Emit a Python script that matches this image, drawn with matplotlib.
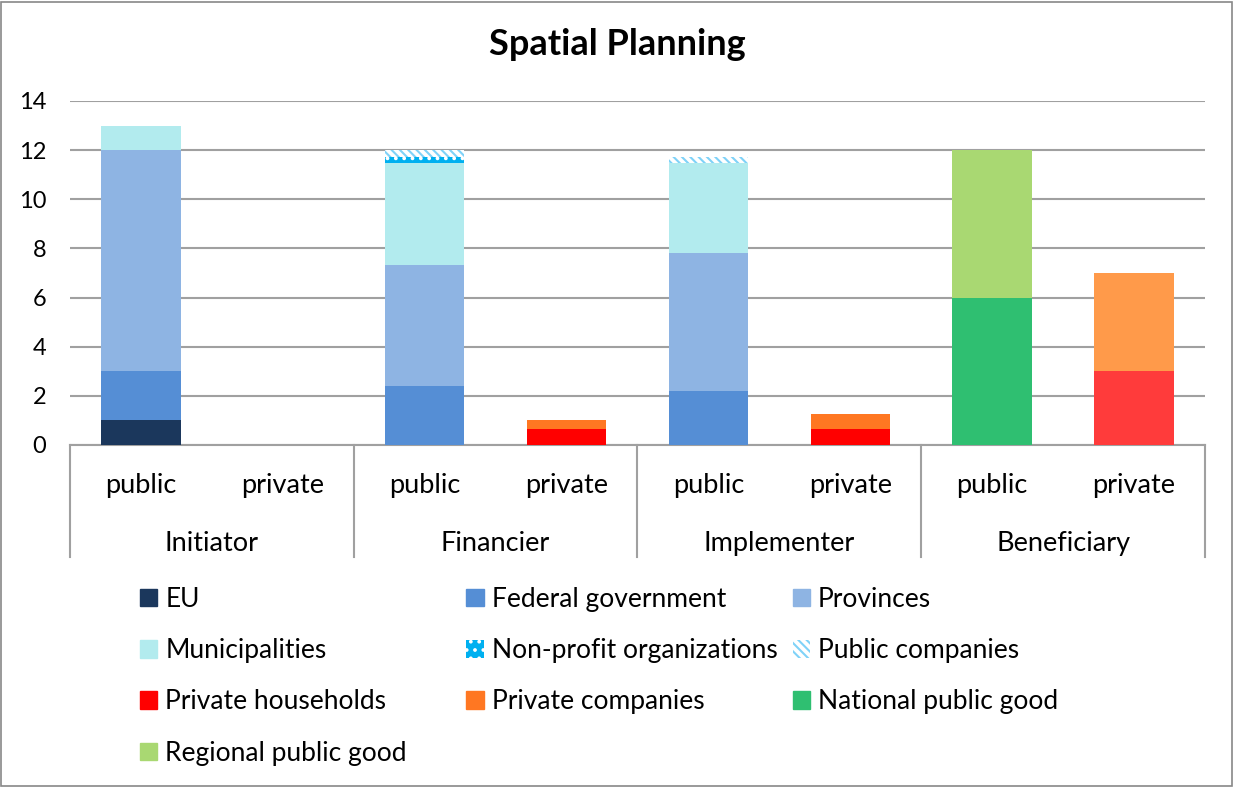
import matplotlib.pyplot as plt
import numpy as np
from matplotlib.patches import Patch, Rectangle
import matplotlib.transforms as mtransforms

plt.rcParams['font.family'] = ['Lato', 'DejaVu Sans']
plt.rcParams['hatch.linewidth'] = 1.5

roles = ['Initiator', 'Financier', 'Implementer', 'Beneficiary']
sectors = ['public', 'private'] * 4

# one value per bar position (Initiator public, Initiator private, ...)
eu = [1, 0, 0, 0, 0, 0, 0, 0]
federal = [2, 0, 2.4, 0, 2.2, 0, 0, 0]
provinces = [9, 0, 4.93, 0, 5.6, 0, 0, 0]
municipalities = [1, 0, 4.13, 0, 3.67, 0, 0, 0]
non_profit = [0, 0, 0.27, 0, 0, 0, 0, 0]
public_companies = [0, 0, 0.27, 0, 0.27, 0, 0, 0]
private_households = [0, 0, 0, 0.67, 0, 0.67, 0, 3]
private_companies = [0, 0, 0, 0.33, 0, 0.6, 0, 4]
national_good = [0, 0, 0, 0, 0, 0, 6, 0]
regional_good = [0, 0, 0, 0, 0, 0, 6, 0]

series = [
    ('EU', eu, dict(color='#1b375c')),
    ('Federal government', federal, dict(color='#558ed5')),
    ('Provinces', provinces, dict(color='#8eb4e3')),
    ('Municipalities', municipalities, dict(color='#b2ebee')),
    ('Non-profit organizations', non_profit,
     dict(facecolor='#00b0f0', edgecolor='white', hatch='..', linewidth=0)),
    ('Public companies', public_companies,
     dict(facecolor='white', edgecolor='#7fd2f8', hatch='\\\\\\\\', linewidth=0)),
    ('Private households', private_households, dict(color='#ff0000')),
    ('Private companies', private_companies, dict(color='#ff7722')),
    ('National public good', national_good, dict(color='#2fbf71')),
    ('Regional public good', regional_good, dict(color='#a9d872')),
]
# beneficiary bars are drawn a bit lighter
light = {'Private households': '#ff3b3b', 'Private companies': '#ff9a4a'}

fig = plt.figure(figsize=(12.34, 7.87), dpi=100)
ax = fig.add_axes([0.0567, 0.4346, 0.9198, 0.4371])

x = np.arange(len(sectors))
bottom = np.zeros(len(sectors))
handles = {}
for name, vals, style in series:
    vals = np.array(vals, dtype=float)
    st = dict(style)
    if name in light:
        cols = [light[name] if i >= 6 else st['color'] for i in range(len(x))]
        st['color'] = cols
    ax.bar(x, vals, 0.56, bottom=bottom, zorder=3, **st)
    bottom += vals
    handles[name] = Patch(**style)

ax.set_xlim(-0.5, 7.5)
ax.set_ylim(0, 14)
ax.set_yticks(range(0, 15, 2))
ax.tick_params(axis='y', length=0, labelsize=17, pad=17)
ax.tick_params(axis='x', length=0, labelbottom=False)
ax.yaxis.grid(True, color='#a0a0a0', linewidth=1.5, zorder=0)
for s in ['top', 'right', 'left']:
    ax.spines[s].set_visible(False)
ax.spines['bottom'].set_color('#a0a0a0')
ax.spines['bottom'].set_linewidth(1.5)

# category and group labels under the axis
trans = mtransforms.blended_transform_factory(ax.transData, ax.transAxes)
for i, s in enumerate(sectors):
    ax.text(i, -0.119, s, transform=trans, ha='center', va='center', fontsize=19.5)
for j, r in enumerate(roles):
    ax.text(2 * j + 0.5, -0.285, r, transform=trans, ha='center', va='center', fontsize=19.5)
for xs in [-0.5, 1.5, 3.5, 5.5, 7.5]:
    ax.plot([xs, xs], [0, -0.326], transform=trans, color='#a0a0a0',
            linewidth=1.5, clip_on=False)

fig.text(0.5, 0.943, 'Spatial Planning', ha='center', va='center',
         fontsize=26, fontweight='bold')

# legend laid out row-wise in three fixed columns
names = [n for n, _, _ in series]
col_x = [0.1135, 0.378, 0.6426]
for c in range(3):
    col_names = names[c::3]
    fig.legend([handles[n] for n in col_names], col_names,
               loc='upper left', bbox_to_anchor=(col_x[c], 0.2545),
               frameon=False, fontsize=19, handlelength=0.65, handleheight=0.65,
               handletextpad=0.3, labelspacing=1.0, borderaxespad=0,
               borderpad=0)

fig.patches.append(Rectangle((0.001, 0.001), 0.997, 0.997, transform=fig.transFigure,
                             fill=False, edgecolor='#888888', linewidth=1.2))

fig.savefig('out.png', dpi=100)
